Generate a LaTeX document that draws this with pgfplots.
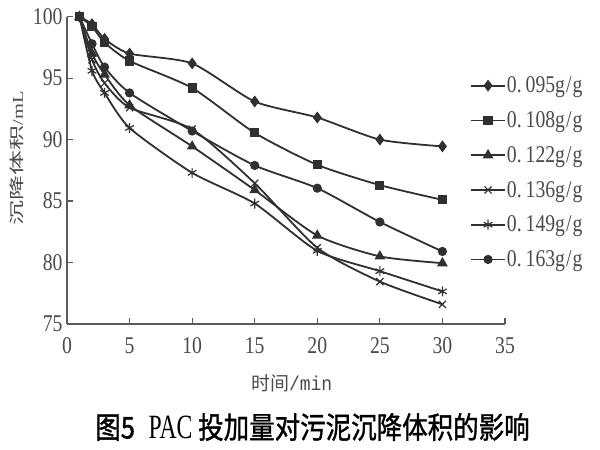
\documentclass[border=0pt]{standalone}
\usepackage{pgfplots}
\pgfplotsset{compat=1.18}
\usepackage{fontspec}
\setmainfont{Liberation Serif}[FakeStretch=0.82]
\newfontfamily\cjk{Noto Sans CJK SC}
\newfontfamily\cjkb{Noto Sans CJK SC}[FakeBold=1.3]
\newfontfamily\mono{Liberation Mono}[FakeStretch=0.9]
\definecolor{ln}{HTML}{303030}
\definecolor{ax}{HTML}{5A5A5A}
\definecolor{tx}{HTML}{4A4A4A}

\begin{document}
\begin{tikzpicture}
\useasboundingbox (0pt,0pt) rectangle (600pt,-450pt);
\begin{axis}[
    at={(67pt,-324pt)}, anchor=south west,
    width=438pt, height=307.3pt, scale only axis,
    xmin=0, xmax=35, ymin=75, ymax=100,
    xtick={0,5,...,35}, ytick={75,80,...,100},
    axis lines*=left,
    axis line style={-, ax, line width=1.3pt},
    tick style={ax, line width=1.2pt},
    tick align=inside,
    major tick length=6pt,
    /pgf/number format/assume math mode=true,
    ticklabel style={font=\fontsize{24}{26}\selectfont, text=tx},
    xticklabel style={yshift=-10pt},
    yticklabel style={xshift=-1pt},
    xlabel={{\cjk\fontsize{19}{20}\selectfont 时间}{\mono\fontsize{20}{20}\selectfont /min}},
    xlabel style={at={(axis description cs:0.513,0)}, anchor=center, yshift=-59pt, text=tx},
    ylabel={\scalebox{1}[0.6]{{\cjk\fontsize{25}{26}\selectfont 沉降体积}{\fontsize{25}{26}\selectfont /mL}}},
    ylabel style={at={(axis description cs:-0.114,0.539)}, anchor=center, text=tx},
    legend style={draw=none, fill=none, inner sep=0pt,
        at={(axis description cs:0.92,0.808)}, anchor=north west,
        font=\fontsize{24}{26}\selectfont, text=tx, row sep=15.3pt,
        nodes={inner sep=1pt}},
    legend cell align=left,
    legend image code/.code={\draw[mark repeat=2,mark phase=2,#1] plot coordinates {(0pt,0pt) (17pt,0pt) (34pt,0pt)};},
    every axis plot/.append style={ln, line width=1.8pt, smooth, tension=0.4,
        mark options={solid, fill=ln, line width=1.2pt}},
]
\addplot[mark=diamond*, mark size=5pt] coordinates {
 (1,100) (2,99.4) (3,98.2) (5,97.0) (10,96.2) (15,93.1) (20,91.8) (25,90.0) (30,89.45)};
\addlegendentry{0.\hspace{4pt}095g\hspace{1pt}/\hspace{1pt}g}
\addplot[mark=square*, mark size=4pt] coordinates {
 (1,100) (2,99.2) (3,97.9) (5,96.4) (10,94.2) (15,90.55) (20,87.95) (25,86.3) (30,85.1)};
\addlegendentry{0.\hspace{4pt}108g\hspace{1pt}/\hspace{1pt}g}
\addplot[mark=triangle*, mark size=5pt] coordinates {
 (1,100) (2,97.0) (3,95.3) (5,92.8) (10,89.45) (15,85.9) (20,82.2) (25,80.5) (30,79.95)};
\addlegendentry{0.\hspace{4pt}122g\hspace{1pt}/\hspace{1pt}g}
\addplot[mark=x, mark size=5pt] coordinates {
 (1,100) (2,96.5) (3,94.6) (5,92.6) (10,90.85) (15,86.45) (20,81.2) (25,78.45) (30,76.6)};
\addlegendentry{0.\hspace{4pt}136g\hspace{1pt}/\hspace{1pt}g}
\addplot[mark=asterisk, mark size=5pt] coordinates {
 (1,100) (2,95.6) (3,93.8) (5,90.95) (10,87.3) (15,84.8) (20,80.95) (25,79.3) (30,77.65)};
\addlegendentry{0.\hspace{4pt}149g\hspace{1pt}/\hspace{1pt}g}
\addplot[mark=*, mark size=4pt] coordinates {
 (1,100) (2,97.8) (3,95.9) (5,93.8) (10,90.7) (15,87.9) (20,86.05) (25,83.3) (30,80.9)};
\addlegendentry{0.\hspace{4pt}163g\hspace{1pt}/\hspace{1pt}g}
\end{axis}
\node[anchor=center] at (312.5pt,-427pt) {\scalebox{0.85}[1]{\cjkb\fontsize{30}{31}\selectfont 图5\hspace{16pt}{\rmfamily\fontsize{34}{35}\selectfont PAC} 投加量对污泥沉降体积的影响}};
\end{tikzpicture}
\end{document}
